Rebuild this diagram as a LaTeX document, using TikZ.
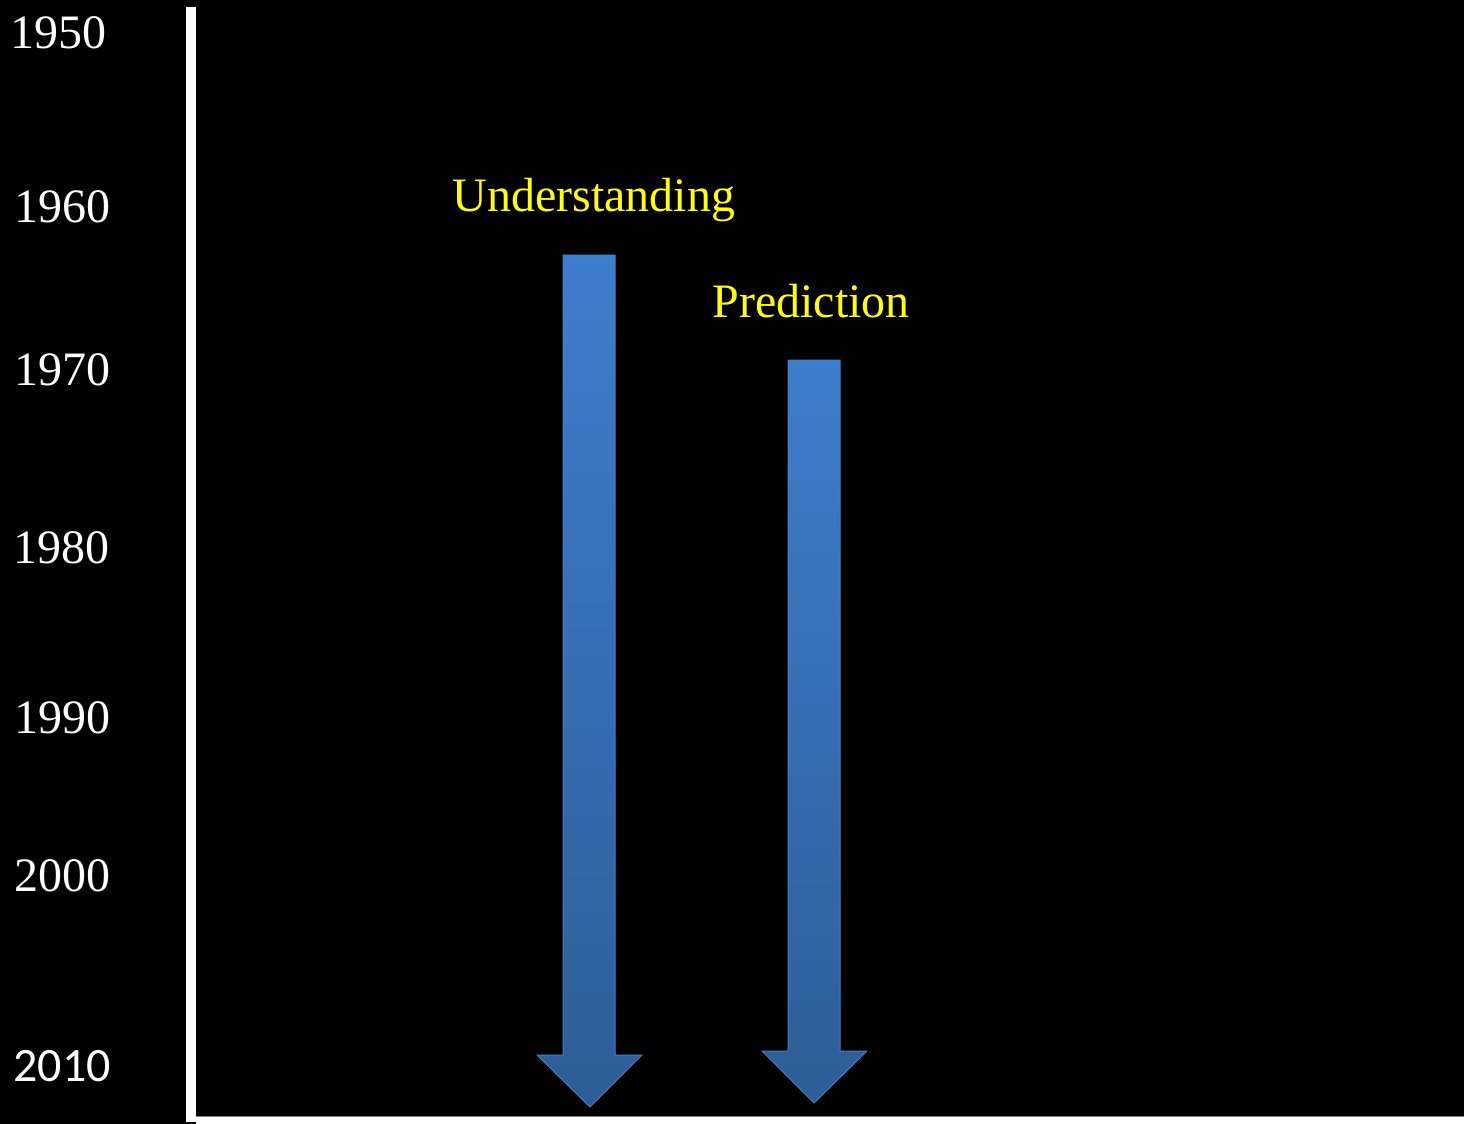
\documentclass[tikz,border=0pt]{standalone}
\usepackage{fontspec}
\setmainfont{Liberation Serif}
\newfontfamily\calfont{Carlito}
\definecolor{arrtop}{RGB}{61,126,205}
\definecolor{arrbot}{RGB}{45,93,152}
\definecolor{arredge}{RGB}{74,126,187}
\definecolor{labyellow}{RGB}{255,255,0}
\begin{document}
\begin{tikzpicture}[x=0.5pt,y=-0.5pt,
  year/.style={inner sep=0pt,anchor=base west,text=white,font=\fontsize{24}{24}\selectfont},
  label/.style={inner sep=0pt,anchor=base west,text=labyellow,font=\fontsize{24}{24}\selectfont},
  blockarrow/.style={top color=arrtop,bottom color=arrbot,draw=arredge,line width=0.5pt,line join=miter}]
\fill[black] (0,0) rectangle (1464,1124);
\useasboundingbox (0,0) rectangle (1464,1124);
% axes
\fill[white] (186,7) rectangle (196,1122);
\fill[white] (196,1116) rectangle (1464,1124);
\draw[gray,line width=0.5pt] (196,1116) -- (1464,1116);
% year labels
\node[year] (y1950) at (10,48) {1950};
\node[year] (y1960) at (14,222) {1960};
\node[year] (y1970) at (14,385) {1970};
\node[year] (y1980) at (13,563) {1980};
\node[year] (y1990) at (14,733) {1990};
\node[year] (y2000) at (14,891) {2000};
\node[year,font=\calfont\fontsize{24}{24}\selectfont] (y2010) at (13,1081) {2010};
% labels
\node[label] (und) at (452,211) {Understanding};
\node[label] (pred) at (712,317) {Prediction};
% arrows
\path[blockarrow] (563,255) -- (615,255) -- (615,1055) -- (642,1055) -- (590,1107) -- (537,1055) -- (563,1055) -- cycle;
\path[blockarrow] (788,360) -- (840,360) -- (840,1051) -- (867,1051) -- (814,1103) -- (762,1051) -- (788,1051) -- cycle;
\end{tikzpicture}
\end{document}
